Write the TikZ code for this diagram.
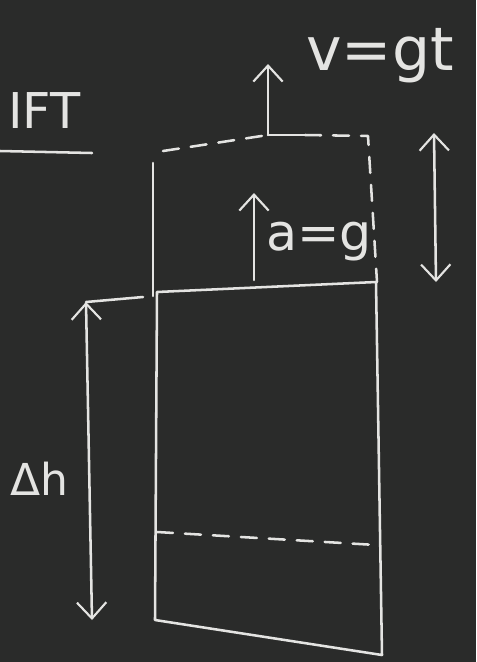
\documentclass[tikz,border=0pt]{standalone}
\usepackage{fontspec}
\setmainfont{DejaVu Sans}
\usetikzlibrary{arrows.meta}
\definecolor{board}{HTML}{2A2B2A}
\definecolor{chalk}{HTML}{E4E4E2}
\begin{document}
\begin{tikzpicture}[x=0.75pt,y=-0.75pt,
  chalkline/.style={draw=chalk,line width=1.9pt,line cap=round,line join=round},
  chalkdash/.style={chalkline,dash pattern=on 12pt off 9pt},
  tip/.style={-{Straight Barb[length=12pt,width=22pt,line width=1.6pt]}},
  tips/.style={{Straight Barb[length=12pt,width=22pt,line width=1.6pt]}-{Straight Barb[length=12pt,width=22pt,line width=1.6pt]}},
  chalktext/.style={text=chalk,inner sep=0pt,anchor=base west}]
\fill[board] (0,0) rectangle (476,662);
\useasboundingbox (0,0) rectangle (476,662);
% IFT heading
\node[chalktext,font=\fontsize{37}{40}\selectfont] (ift) at (8,128) {IFT};
\coordinate (ulA) at (0,151);
\coordinate (ulB) at (92,153);
\draw[chalkline] (ulA) -- (ulB);
% upper dashed box (previous position)
\coordinate (ptl) at (163,151);
\coordinate (pmid) at (268,135);
\coordinate (ptr) at (368,136);
\coordinate (pbr) at (377,282);
\coordinate (plt) at (153,163);
\coordinate (plb) at (153,296);
\draw[chalkdash] (ptl) -- (pmid);
\draw[chalkline] (pmid) -- (305,135);
\draw[chalkdash] (305,135) -- (ptr) -- (pbr);
\draw[chalkline] (plt) -- (plb);
% velocity arrow
\coordinate (vtop) at (268,64);
\draw[chalkline,tip] (pmid) -- (vtop);
\node[chalktext,font=\fontsize{45}{48}\selectfont] (vlab) at (306,70) {v=gt};
% acceleration arrow
\coordinate (abot) at (254,280);
\coordinate (atop) at (254,193);
\draw[chalkline,tip] (abot) -- (atop);
\node[chalktext,font=\fontsize{38}{40}\selectfont] (alab) at (266,250) {a=g};
% right double arrow
\coordinate (rt) at (434,133);
\coordinate (rb) at (436,282);
\draw[chalkline,tips] (rb) -- (rt);
% elevator box
\coordinate (btl) at (157,292);
\coordinate (btr) at (376,282);
\coordinate (bbr) at (382,655);
\coordinate (bbl) at (155,620);
\draw[chalkline] (btl) -- (btr) -- (bbr) -- (bbl) -- cycle;
\coordinate (fl) at (157,532);
\coordinate (fr) at (376,545);
\draw[chalkdash] (fl) -- (fr);
% delta h arrow
\coordinate (ht) at (86,302);
\coordinate (hb) at (92,620);
\coordinate (hr) at (143,297);
\draw[chalkline,tips] (hb) -- (ht);
\draw[chalkline] (ht) -- (hr);
\node[chalktext,font=\fontsize{33}{36}\selectfont] (dh) at (10,495) {Δh};
\end{tikzpicture}
\end{document}
